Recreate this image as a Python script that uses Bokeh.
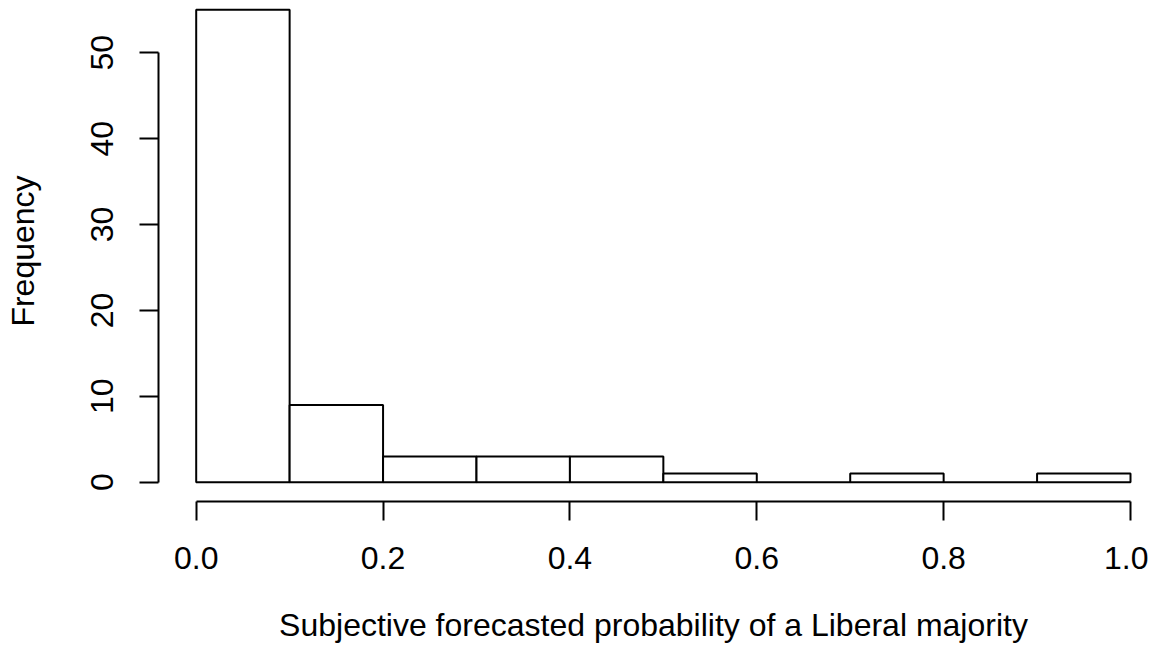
from bokeh.plotting import figure
from bokeh.models import Range1d, FixedTicker, NumeralTickFormatter, ColumnDataSource
from bokeh.embed import file_html
from bokeh.resources import INLINE

# Data
bin_edges = [0.0, 0.1, 0.2, 0.3, 0.4, 0.5, 0.6, 0.7, 0.8, 0.9, 1.0]
counts = [55, 9, 3, 3, 3, 1, 0, 1, 0, 1]
x_ticks = [0.0, 0.2, 0.4, 0.6, 0.8, 1.0]
y_ticks = [0, 10, 20, 30, 40, 50]
x_label = "Subjective forecasted probability of a Liberal majority"
y_label = "Frequency"

FONT = "Liberation Sans"
FS = "32px"

src = ColumnDataSource(dict(
    left=bin_edges[:-1],
    right=bin_edges[1:],
    top=counts,
    bottom=[0] * len(counts),
))

p = figure(
    frame_width=990, frame_height=501,
    x_range=Range1d(-0.04035, 1.01926),
    y_range=Range1d(-2.247, 56.09),
    output_backend="svg", toolbar_location=None,
    min_border_left=158, min_border_right=0,
    min_border_top=0, min_border_bottom=144,
)
p.outline_line_color = None
p.xgrid.visible = False
p.ygrid.visible = False
p.background_fill_color = "white"
p.border_fill_color = "white"

p.quad(left="left", right="right", top="top", bottom="bottom", source=src,
       fill_color="white", line_color="black", line_width=2)

for ax, ticks in ((p.xaxis[0], x_ticks), (p.yaxis[0], y_ticks)):
    ax.ticker = FixedTicker(ticks=ticks)
    ax.bounds = (ticks[0], ticks[-1])
    ax.axis_line_width = 2
    ax.axis_line_color = "black"
    ax.major_tick_line_width = 2
    ax.major_tick_line_color = "black"
    ax.major_tick_out = 19
    ax.major_tick_in = 0
    ax.minor_tick_line_color = None
    ax.major_label_text_font = FONT
    ax.major_label_text_font_size = FS
    ax.major_label_text_color = "black"
    ax.axis_label_text_font = FONT
    ax.axis_label_text_font_size = FS
    ax.axis_label_text_font_style = "normal"
    ax.axis_label_text_color = "black"

p.xaxis[0].formatter = NumeralTickFormatter(format="0.0")
p.xaxis[0].major_label_standoff = 26
p.xaxis[0].axis_label = x_label
p.xaxis[0].axis_label_standoff = 35

p.yaxis[0].major_label_orientation = "vertical"
p.yaxis[0].major_label_standoff = 26
p.yaxis[0].axis_label = y_label
p.yaxis[0].axis_label_standoff = 48

open("out.html", "w").write(file_html(p, INLINE))
